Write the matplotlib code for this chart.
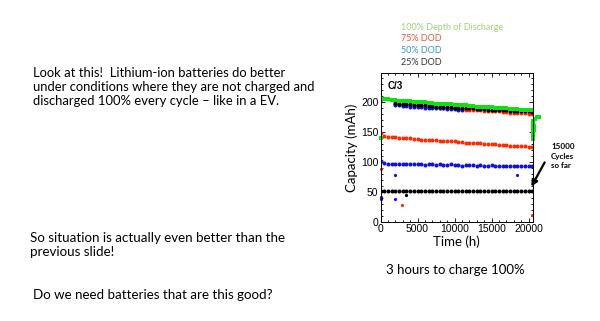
import matplotlib
matplotlib.use("Agg")
import matplotlib.pyplot as plt
from matplotlib.ticker import MultipleLocator

# ---------------- donnees ----------------
t = [0, 500, 1000, 1500, 2000, 2500, 3000, 3500, 4000, 4500, 5000, 5500, 6000, 6500,
     7000, 7500, 8000, 8500, 9000, 9500, 10000, 10500, 11000, 11500, 12000, 12500,
     13000, 13500, 14000, 14500, 15000, 15500, 16000, 16500, 17000, 17500, 18000,
     18500, 19000, 19500, 20000, 20500]

# 100% DOD
green = [203, 204, 204, 203, 203, 202, 202, 201, 201, 200, 200, 199, 199, 198, 198, 197,
         197, 196, 196, 196, 195, 195, 194, 194, 193, 193, 192, 192, 192, 191, 191, 190,
         190, 189, 189, 188, 188, 188, 187, 187, 186, 186]
# 75% DOD
red = [148, 143, 142, 141, 141, 140, 140, 139, 139, 138, 138, 137, 137, 137, 136, 136,
       135, 135, 134, 134, 134, 133, 133, 132, 132, 131, 131, 131, 130, 130, 129, 129,
       128, 128, 128, 127, 127, 126, 126, 126, 125, 125]
# 50% DOD
blue = [101, 98, 97, 97, 96, 97, 96, 96, 97, 96, 96, 96, 95, 96, 96, 95, 96, 95, 95, 96,
        95, 95, 94, 95, 95, 95, 94, 95, 94, 94, 95, 94, 94, 94, 94, 94, 93, 94, 93, 93,
        93, 93]
# 25% DOD
black = [52, 51, 51, 51, 51, 51, 51, 51, 51, 52, 51, 51, 51, 51, 51, 52, 51, 51, 51, 52,
         51, 51, 51, 51, 51, 51, 51, 51, 51, 51, 51, 51, 51, 51, 51, 51, 52, 51, 51, 51,
         51, 51]

# mesures C/3 en haut (a partir de 2000 h)
t_top = [2000, 2500, 3000, 3500, 4000, 4500, 5000, 5500, 6000, 6500, 7000, 7500, 8000,
         8500, 9000, 9500, 10000, 10500, 11000, 11500, 12000, 12500, 13000, 13500, 14000,
         14500, 15000, 15500, 16000, 16500, 17000, 17500, 18000, 18500, 19000, 19500,
         20000, 20500]
red_top = [197, 196, 195, 195, 194, 194, 193, 193, 192, 192, 191, 191, 190, 190, 189, 189,
           189, 188, 188, 187, 187, 186, 186, 186, 185, 185, 184, 184, 184, 183, 183, 182,
           182, 182, 181, 181, 180, 180]
black_top = [198, 197, 197, 196, 196, 195, 195, 194, 194, 193, 193, 192, 192, 191, 191,
             191, 190, 190, 190, 189, 189, 189, 188, 188, 188, 187, 187, 187, 186, 186,
             186, 185, 185, 185, 184, 184, 184, 183]
t_blue_top = [2000, 2500, 3000, 3500, 4000, 4500, 5000, 5500, 6000, 6500, 7000, 7500,
              8000, 8500, 9000, 9500, 10000, 10500, 11000]
blue_top = [195, 194, 193, 193, 192, 192, 191, 191, 190, 190, 190, 189, 189, 189, 188,
            188, 188, 187, 186]

# points isoles
green_out_t = [0, 20550, 20600, 20650, 20700, 20550, 20600, 20600, 20750, 20550, 20900, 21200, 21400]
green_out_y = [140, 138, 143, 148, 153, 158, 163, 168, 160, 155, 171, 174, 175]
red_out_t = [0, 2900, 20500]
red_out_y = [88, 28, 12]
blue_out_t = [0, 0, 2000, 2000, 18500]
blue_out_y = [42, 39, 78, 38, 78]
black_out_t = [3500]
black_out_y = [45]

legend_labels = ["100% Depth of Discharge", "75% DOD", "50% DOD", "25% DOD"]
legend_colors = ["#9fd17a", "#e8553e", "#3d8fd0", "#333333"]

left_text = "Look at this!  Lithium-ion batteries do better\nunder conditions where they are not charged and\ndischarged 100% every cycle \u2013 like in a EV."
mid_text = "So situation is actually even better than the\nprevious slide!"
bottom_text = "Do we need batteries that are this good?"

W, H = 600, 321
fig = plt.figure(figsize=(6, 3.21), dpi=100)
fig.patch.set_facecolor("white")

def px(x, y):
    return x / W, 1 - y / H

ax = fig.add_axes([380.5 / W, 1 - 222 / H, 152.5 / W, 149 / H])

ms = 2.9
ax.plot(t, red, "o", color="#ff2a00", ms=ms, mew=0)
ax.plot(t, blue, "o", color="#1010e0", ms=ms, mew=0)
ax.plot(t, black, "o", color="black", ms=ms, mew=0)
ax.plot(t_top, red_top, "o", color="#ff2a00", ms=ms, mew=0)
ax.plot(t_blue_top, blue_top, "o", color="#1010e0", ms=ms, mew=0)
ax.plot(t_top, black_top, "o", color="black", ms=ms, mew=0)
ax.plot(t, green, "s", color="#10e010", ms=3.4, mew=0)
ax.plot(green_out_t, green_out_y, "s", color="#10e010", ms=3.2, mew=0, clip_on=False)
ax.plot(red_out_t, red_out_y, "o", color="#ff2a00", ms=2.3, mew=0, clip_on=False)
ax.plot(blue_out_t, blue_out_y, "o", color="#1010e0", ms=2.3, mew=0, clip_on=False)
ax.plot(black_out_t, black_out_y, "o", color="black", ms=2.3, mew=0, clip_on=False)

ax.set_xlim(0, 20600)
ax.set_ylim(0, 248)
ax.set_xticks([0, 5000, 10000, 15000, 20000])
ax.set_yticks([0, 50, 100, 150, 200])
ax.xaxis.set_minor_locator(MultipleLocator(1000))
ax.yaxis.set_minor_locator(MultipleLocator(10))
ax.tick_params(which="both", direction="in", top=True, right=True, labelsize=7.5,
               pad=1.5, width=0.6)
ax.tick_params(which="major", length=3)
ax.tick_params(which="minor", length=1.5)
for lab in ax.get_xticklabels() + ax.get_yticklabels():
    lab.set_family("Liberation Sans")
for s in ax.spines.values():
    s.set_linewidth(0.7)

ax.set_xlabel("Time (h)", family="Lato", fontsize=9.5, labelpad=1)
ax.set_ylabel("Capacity (mAh)", family="Lato", fontsize=9.5, labelpad=2)
ax.text(0.05, 0.91, "C/3", transform=ax.transAxes, fontsize=7, fontweight="bold",
        family="Liberation Sans", va="center")

# legende en texte colore
for i, (lab, col) in enumerate(zip(legend_labels, legend_colors)):
    fig.text(*px(401, 27 + i * 11.7), lab, color=col, fontsize=6.5, family="Lato",
             va="center", ha="left")

fig.text(*px(551, 156), "15000\nCycles\nso far", fontsize=5.8, fontweight="bold",
         family="Lato", va="center", ha="left", linespacing=1.35)
# fleche
ax.annotate("", xy=px(530, 189), xycoords="figure fraction",
            xytext=px(546, 160), textcoords="figure fraction",
            arrowprops=dict(arrowstyle="-|>", color="black", lw=1.6,
                            mutation_scale=9), annotation_clip=False)

fig.text(*px(455, 270), "3 hours to charge 100%", fontsize=9.5, family="Lato",
         ha="center", va="center")

fig.text(*px(33, 87), left_text, fontsize=9.4, family="Lato", va="center", ha="left",
         linespacing=1.2)
fig.text(*px(30, 245), mid_text, fontsize=9.6, family="Lato", va="center", ha="left",
         linespacing=1.2)
fig.text(*px(33, 295), bottom_text, fontsize=9.6, family="Lato", va="center", ha="left")

fig.savefig("out.png", dpi=100, facecolor="white")
